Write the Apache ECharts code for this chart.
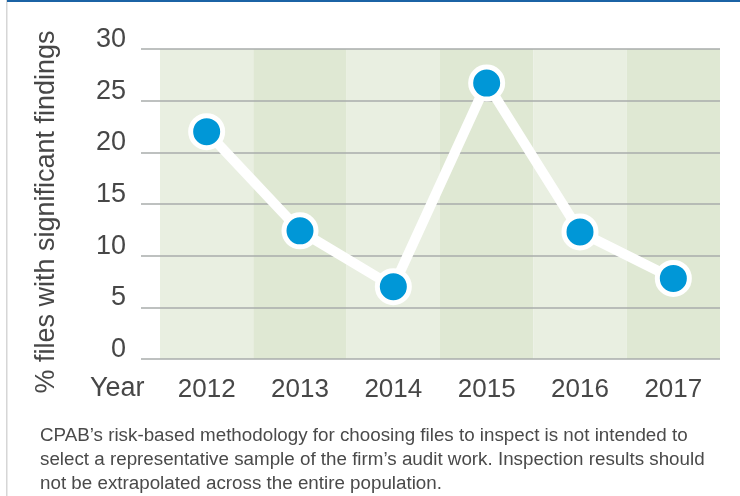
<!DOCTYPE html>
<html>
<head>
<meta charset="utf-8">
<script src="https://cdn.jsdelivr.net/npm/echarts@6.0.0/dist/echarts.min.js"></script>
<style>
	html, body { margin: 0; padding: 0; background: #ffffff; }
	#chart { width: 740px; height: 496px; }
</style>
</head>
<body>
<div id="chart"></div>
<script>
/** ----------------图表数据-------------------------* */
var years = ['2012', '2013', '2014', '2015', '2016', '2017'];
var findings = [22.0, 12.4, 7.0, 26.7, 12.3, 7.8];
var yTicks = [0, 5, 10, 15, 20, 25, 30];
var noteLines = [
	'CPAB\u2019s risk-based methodology for choosing files to inspect is not intended to',
	'select a representative sample of the firm\u2019s audit work. Inspection results should',
	'not be extrapolated across the entire population.'
];

var fontFamily = '"Liberation Sans", Arial, sans-serif';
var textColor = '#474747';

initChart();

/** --------加载图表 ------ */
function initChart() {
	var chart = echarts.init(document.getElementById('chart'), null, { renderer: 'canvas' });

	var noteGraphics = [];
	for (var i = 0; i < noteLines.length; i++) {
		noteGraphics.push({
			type: 'text',
			left: 40,
			top: 426 + i * 24,
			style: {
				text: noteLines[i],
				fill: '#4a4a4a',
				font: '18.8px ' + fontFamily
			}
		});
	}

	var option = {
		animation: false,
		backgroundColor: '#ffffff',
		grid: [
			{ left: 141, right: 20, top: 49, bottom: 137 },
			{ left: 160, right: 20, top: 49, bottom: 137 }
		],
		xAxis: [
			{
				gridIndex: 0,
				type: 'value',
				show: false
			},
			{
				gridIndex: 1,
				type: 'category',
				data: years,
				boundaryGap: true,
				z: 0,
				axisLine: { show: false },
				axisTick: { show: false },
				axisLabel: {
					color: textColor,
					fontFamily: fontFamily,
					fontSize: 26,
					margin: 18
				},
				splitArea: {
					show: true,
					areaStyle: { color: ['#e9efe1', '#dfe8d3'] }
				}
			}
		],
		yAxis: [
			{
				gridIndex: 0,
				type: 'value',
				min: 0,
				max: 30,
				interval: 5,
				z: 1,
				name: '% files with significant findings',
				nameLocation: 'middle',
				nameGap: 81,
				nameTextStyle: {
					color: textColor,
					fontFamily: fontFamily,
					fontSize: 27,
					padding: [0, 16, 0, 0]
				},
				axisLine: { show: false },
				axisTick: { show: false },
				axisLabel: {
					color: textColor,
					fontFamily: fontFamily,
					fontSize: 27,
					margin: 15,
					verticalAlign: 'bottom',
					lineHeight: 19,
					formatter: function (v) {
						return yTicks.indexOf(v) >= 0 ? String(v) : '';
					}
				},
				splitLine: {
					show: true,
					lineStyle: { color: '#a9adab', width: 1.5 }
				}
			},
			{
				gridIndex: 1,
				type: 'value',
				min: 0,
				max: 30,
				interval: 5,
				show: false,
				splitLine: { show: false }
			}
		],
		graphic: [
			{
				type: 'rect',
				shape: { x: 6, y: 0, width: 1.5, height: 496 },
				style: { fill: '#d6d6d6' }
			},
			{
				type: 'rect',
				shape: { x: 7, y: 0, width: 733, height: 2 },
				style: { fill: '#1b63a5' }
			},
			{
				type: 'text',
				left: 90,
				top: 375,
				style: {
					text: 'Year',
					fill: textColor,
					font: '27px ' + fontFamily
				}
			}
		].concat(noteGraphics),
		series: [
			{
				type: 'line',
				xAxisIndex: 1,
				yAxisIndex: 1,
				data: findings,
				symbol: 'circle',
				symbolSize: 32,
				z: 3,
				lineStyle: { color: '#ffffff', width: 10 },
				itemStyle: {
					color: '#0097d7',
					borderColor: '#ffffff',
					borderWidth: 5
				}
			}
		]
	};
	chart.setOption(option);
}
</script>
</body>
</html>
